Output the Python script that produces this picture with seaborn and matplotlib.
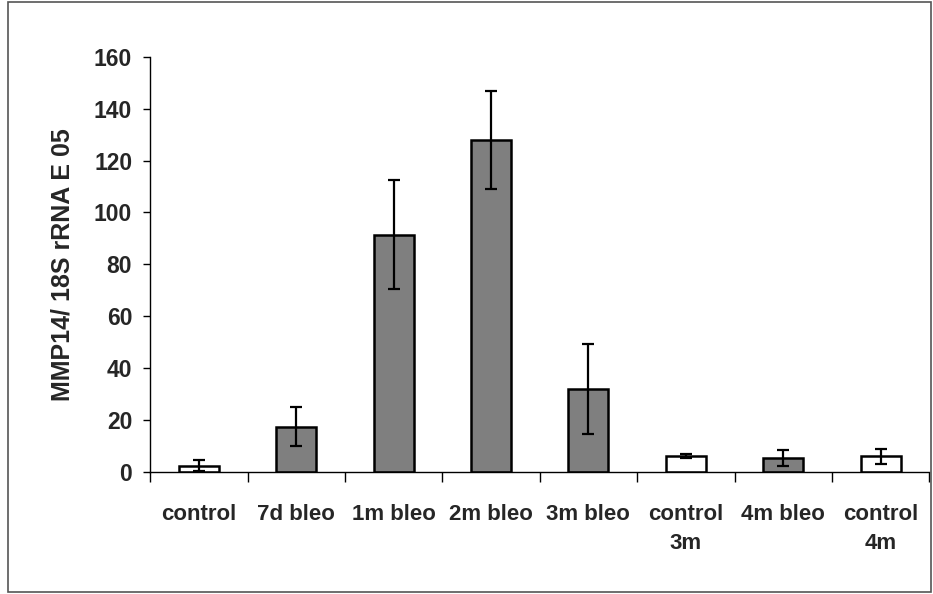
import matplotlib
matplotlib.use("Agg")
import matplotlib.pyplot as plt
import seaborn as sns
import numpy as np
import pandas as pd
from matplotlib.patches import Rectangle

categories = ["control", "7d bleo", "1m bleo", "2m bleo", "3m bleo", "control\n3m", "4m bleo", "control\n4m"]
values = [2.5, 17.5, 91.5, 128, 32, 6, 5.5, 6]
errors = [2, 7.5, 21, 19, 17.5, 0.8, 3, 3]
fill_colors = ["white", "#7f7f7f", "#7f7f7f", "#7f7f7f", "#7f7f7f", "white", "#7f7f7f", "white"]
y_ticks = [0, 20, 40, 60, 80, 100, 120, 140, 160]

sns.set_theme(style="white")
plt.rcParams['font.family'] = ['Liberation Sans', 'DejaVu Sans']

df = pd.DataFrame({"cat": categories, "val": values})

fig = plt.figure(figsize=(9.33, 5.94), dpi=100)
ax = fig.add_axes([0.161, 0.2054, 0.835, 0.699])

sns.barplot(data=df, x="cat", y="val", ax=ax, width=0.41, edgecolor="black",
            linewidth=1.8, errorbar=None)
for patch, c in zip(ax.patches, fill_colors):
    patch.set_facecolor(c)

x = np.arange(len(categories))
ax.errorbar(x, values, yerr=errors, fmt="none", ecolor="black", elinewidth=1.6,
            capsize=4.5, capthick=1.6, zorder=5)

ax.set_xlim(-0.5, len(categories) - 0.5)
ax.set_ylim(0, 160)
ax.set_yticks(y_ticks)
ax.set_yticklabels([str(t) for t in y_ticks], fontsize=16.5, fontweight="bold")
ax.set_xticks(x)
ax.set_xticklabels(categories, fontsize=16, fontweight="bold", linespacing=1.5)
ax.set_xticks(np.arange(-0.5, len(categories), 1.0), minor=True)
ax.tick_params(axis="x", which="major", length=0, pad=23)
ax.tick_params(axis="x", which="minor", length=7, width=1, color="black", direction="out", bottom=True)
ax.tick_params(axis="y", which="major", length=5, width=1, color="black", direction="out", left=True, pad=8)
ax.set_xlabel("")
ax.set_ylabel("MMP14/ 18S rRNA E 05", fontsize=18, fontweight="bold", labelpad=14)

for s in ["top", "right"]:
    ax.spines[s].set_visible(False)
for s in ["left", "bottom"]:
    ax.spines[s].set_color("black")
    ax.spines[s].set_linewidth(1.0)

fig.patches.append(Rectangle((0.009, 0.004), 0.989, 0.993, transform=fig.transFigure,
                             fill=False, edgecolor="#555555", linewidth=1.2))

fig.savefig("out.png", dpi=100)
